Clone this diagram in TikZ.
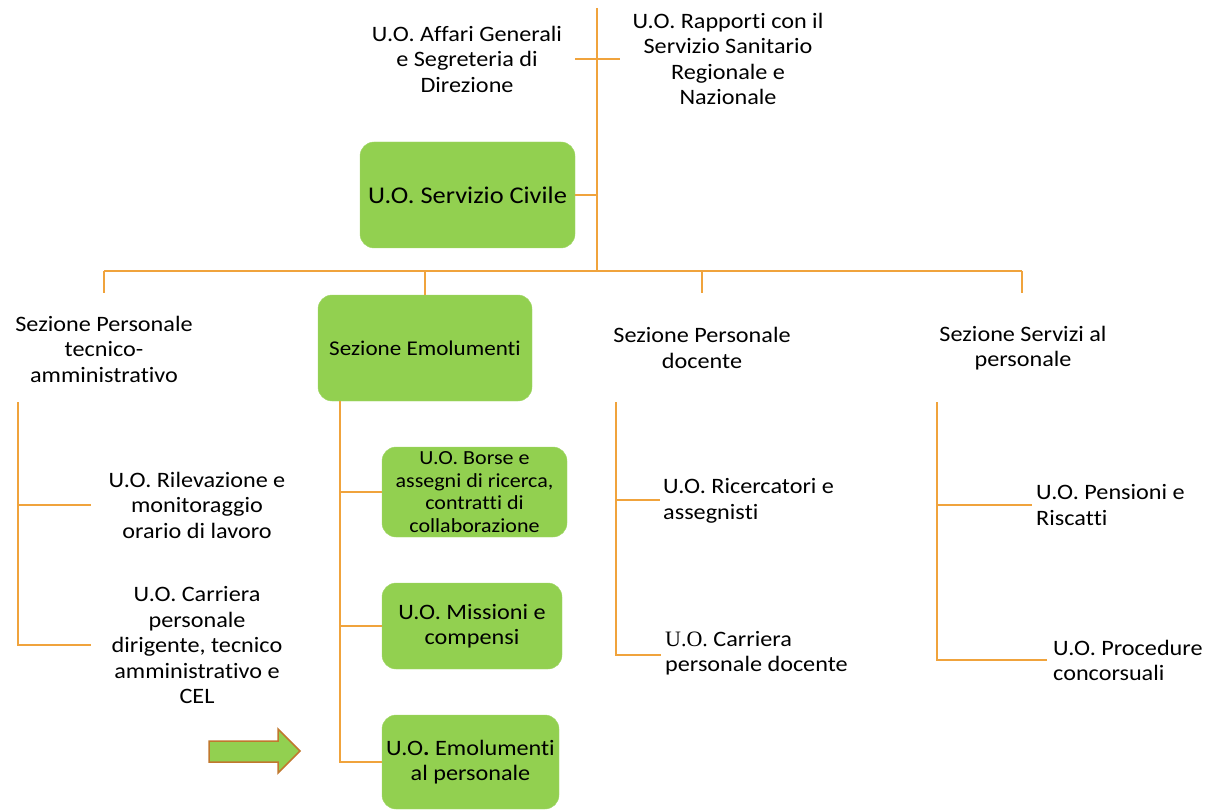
\documentclass[tikz,border=0pt]{standalone}
\usepackage{fontspec}
\setmainfont[FakeStretch=1.1, Ligatures={NoCommon,NoContextual}]{Carlito}
\newfontfamily\serifuo{Liberation Serif}
\definecolor{lineor}{HTML}{F0A33C}
\definecolor{boxgreen}{HTML}{92D050}
\definecolor{arrowedge}{HTML}{C0782E}
\begin{document}
\begin{tikzpicture}[x=1pt,y=-1pt,
  ln/.style={draw=lineor, line width=2pt},
  box/.style={fill=boxgreen, draw=boxgreen!85!white, rounded corners=14pt, align=center, inner sep=0pt, font=\fontsize{22}{25.5}\selectfont},
  txt/.style={align=center, inner sep=0pt, font=\fontsize{22}{25.5}\selectfont},
  ltxt/.style={align=left, inner sep=0pt, anchor=west, font=\fontsize{22}{25.5}\selectfont},
  arrowsty/.style={fill=boxgreen, draw=arrowedge, line width=1.5pt}]
\useasboundingbox (0,0) rectangle (1209,810);
% top level
\coordinate (top) at (597,8);
\coordinate (hub) at (597,271);
\coordinate (crL) at (575,59);
\coordinate (crR) at (620,59);
\node[txt] (affari) at (467,59) {U.O. Affari Generali\\e Segreteria di\\Direzione};
\node[txt] (rapporti) at (728,59) {U.O. Rappor\kern0pt ti con il\\Servizio Sanitario\\Regionale e\\Nazionale};
\node[box, minimum width=215pt, minimum height=106pt, font=\fontsize{24}{28}\selectfont] (civile) at (467.5,195) {U.O. Servizio Civile};
\draw[ln] (top) -- (hub);
\draw[ln] (crL) -- (crR);
\draw[ln] (civile.east) -- (civile.east -| hub);
% bus
\coordinate (busL) at (104,271);
\coordinate (busR) at (1022,271);
\coordinate (dA) at (104,293);
\coordinate (dD) at (702,293);
\coordinate (dS) at (1022,293);
\coordinate (busD) at (702,271);
\draw[ln] (busL) -- (busR);
\draw[ln] (busL) -- (dA);
\draw[ln] (busD) -- (dD);
\draw[ln] (busR) -- (dS);
% sections
\node[txt] (sezA) at (104,349) {Sezione Personale\\tecnico-\\amministrativo};
\node[box, minimum width=214pt, minimum height=106pt, font=\fontsize{21}{25.5}\selectfont] (sezE) at (425,348) {Sezione Emolumenti};
\node[txt] (sezD) at (702,348) {Sezione Personale\\docente};
\node[txt] (sezS) at (1023,348) {Sezione Servizi al\\personale};
\draw[ln] (sezE.north) -- (sezE.north |- busL);
% column A
\coordinate (aTop) at (18,402);
\coordinate (aB1) at (18,505);
\coordinate (aB2) at (18,645);
\coordinate (aE1) at (91,505);
\coordinate (aE2) at (91,645);
\draw[ln] (aTop) -- (aB2) -- (aE2);
\draw[ln] (aB1) -- (aE1);
\node[txt] (ril) at (197,505) {U.O. Rilevazione e\\monitoraggio\\orario di lavoro};
\node[txt] (carA) at (197,645.5) {U.O. Carriera\\personale\\dirigente, tecnico\\amministrativo e\\CEL};
% column E
\node[box, minimum width=185pt, minimum height=90pt, font=\fontsize{20}{22.7}\selectfont] (borse) at (474.5,492) {U.O. Borse e\\assegni di ricerca,\\contrat\kern0pt ti di\\collaborazione};
\node[box, minimum width=180pt, minimum height=86pt] (missioni) at (472,626) {U.O. Missioni e\\compensi};
\node[box, minimum width=177pt, minimum height=94pt] (emol) at (470.5,762) {U.O\textbf{.} Emolumenti\\al personale};
\coordinate (eTop) at (340,401);
\draw[ln] (eTop) -- (eTop |- emol.west) -- (emol.west);
\draw[ln] (eTop |- borse.west) -- (borse.west);
\draw[ln] (eTop |- missioni.west) -- (missioni.west);
\draw[arrowsty] (209,741) -- (278,741) -- (278,729) -- (300,751) -- (278,773) -- (278,762) -- (209,762) -- cycle;
% column D
\coordinate (dTop) at (616,402);
\coordinate (dB1) at (616,500);
\coordinate (dB2) at (616,655);
\coordinate (dE1) at (660,500);
\coordinate (dE2) at (661,655);
\draw[ln] (dTop) -- (dB2) -- (dE2);
\draw[ln] (dB1) -- (dE1);
\node[ltxt] (ric) at (663,501) {U.O. Ricercatori e\\assegnis\kern0pt ti};
\node[ltxt] (card) at (665,653) {{\serifuo U.O.} Carriera\\personale docente};
% column S
\coordinate (sTop) at (937,402);
\coordinate (sB1) at (937,505);
\coordinate (sB2) at (937,660);
\coordinate (sE1) at (1032,505);
\coordinate (sE2) at (1047,660);
\draw[ln] (sTop) -- (sB2) -- (sE2);
\draw[ln] (sB1) -- (sE1);
\node[ltxt] (pens) at (1036,505) {U.O. Pensioni e\\Riscat\kern0pt ti};
\node[ltxt] (proc) at (1053,660.5) {U.O. Procedure\\concorsuali};
\end{tikzpicture}
\end{document}
